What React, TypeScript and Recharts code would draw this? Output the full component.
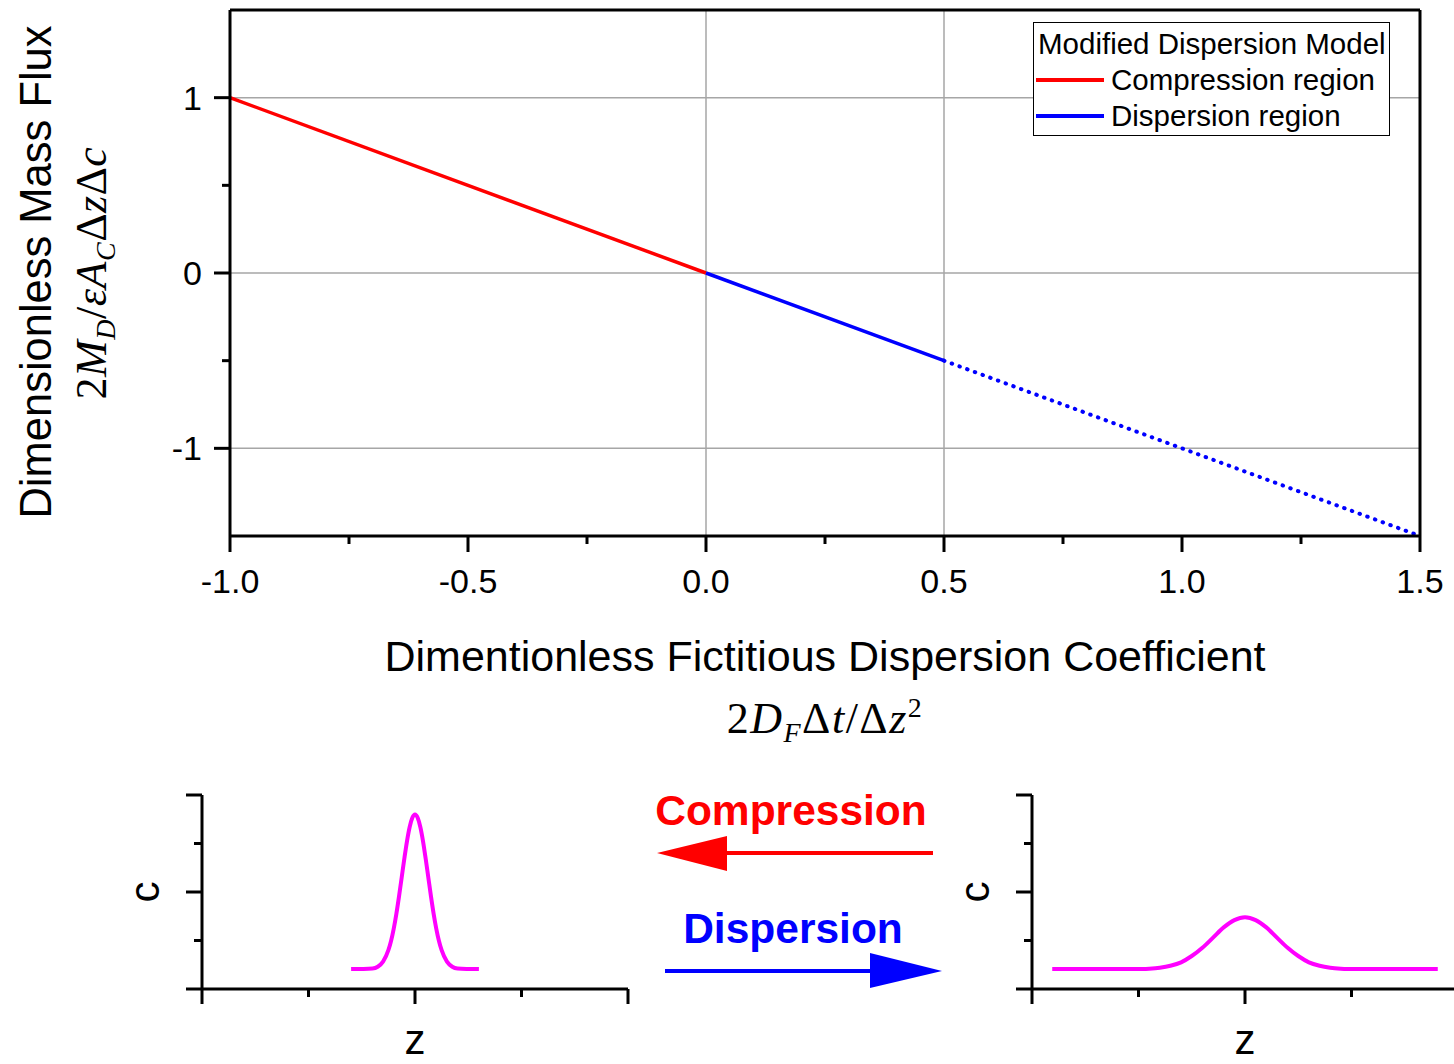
import { Legend, Line, LineChart, ReferenceLine, XAxis, YAxis } from "recharts";

// main chart: dimensionless flux vs dimensionless fictitious dispersion coefficient
const fluxTicksX = [-1, -0.75, -0.5, -0.25, 0, 0.25, 0.5, 0.75, 1, 1.25, 1.5];
const fluxTicksY = [-1, -0.5, 0, 0.5, 1];
const fluxDomainX = [-1, 1.5];
const fluxDomainY = [-1.5, 1.5];
const gridX = [0, 0.5];
const gridY = [-1, 0, 1];

const compressionX = [-1, 0];
const compressionFlux = [1, 0];
const dispersionX = [0, 0.5];
const dispersionFlux = [0, -0.5];
const extendedX = [0.5, 1.5];
const extendedFlux = [-0.5, -1.5];

// small concentration profiles
const profileTicks = [0, 1, 2, 3, 4];
const narrowZ = [
  1.4, 1.6, 1.65, 1.7, 1.75, 1.775, 1.8, 1.825, 1.85, 1.875, 1.9, 1.925, 1.95, 1.975, 2.0,
  2.025, 2.05, 2.075, 2.1, 2.125, 2.15, 2.175, 2.2, 2.225, 2.25, 2.3, 2.35, 2.4, 2.6,
];
const narrowC = [
  0.41, 0.425, 0.46, 0.565, 0.8, 0.99, 1.24, 1.55, 1.91, 2.3, 2.69, 3.05, 3.34, 3.53, 3.6,
  3.53, 3.34, 3.05, 2.69, 2.3, 1.91, 1.55, 1.24, 0.99, 0.8, 0.565, 0.46, 0.425, 0.41,
];
const wideZ = [
  0.19, 1.0, 1.1, 1.2, 1.3, 1.4, 1.5, 1.6, 1.7, 1.8, 1.9, 2.0, 2.1, 2.2, 2.3, 2.4, 2.5, 2.6,
  2.7, 2.8, 2.9, 3.0, 3.81,
];
const wideC = [
  0.41, 0.41, 0.42, 0.44, 0.48, 0.55, 0.68, 0.85, 1.06, 1.27, 1.42, 1.48, 1.42, 1.27, 1.06,
  0.85, 0.68, 0.55, 0.48, 0.44, 0.42, 0.41, 0.41,
];

const SANS = "'Liberation Sans', Arial, sans-serif";
const SERIF = "'Liberation Serif', 'Times New Roman', serif";
const RED = "#ff0000";
const BLUE = "#0000ff";

const zip = (xs: number[], ys: number[]) => xs.map((x, i) => ({ x, y: ys[i] }));

function FluxXTick({ x, y, payload }: any) {
  const major = Math.abs(payload.value * 2 - Math.round(payload.value * 2)) < 1e-6;
  return (
    <g>
      <line x1={x} x2={x} y1={y} y2={y + (major ? 16 : 8)} stroke="#000" strokeWidth={3} />
      {major && (
        <text x={x} y={y + 57} textAnchor="middle" fontFamily={SANS} fontSize={34} fill="#000">
          {payload.value.toFixed(1)}
        </text>
      )}
    </g>
  );
}

function FluxYTick({ x, y, payload }: any) {
  const major = Number.isInteger(payload.value);
  return (
    <g>
      <line x1={x - (major ? 16 : 8)} x2={x} y1={y} y2={y} stroke="#000" strokeWidth={3} />
      {major && (
        <text x={x - 28} y={y + 12} textAnchor="end" fontFamily={SANS} fontSize={34} fill="#000">
          {payload.value}
        </text>
      )}
    </g>
  );
}

function FluxLegend({ payload }: any) {
  const items = (payload || []).filter((p: any) => p.type !== "none");
  return (
    <div
      style={{
        width: 357,
        height: 114,
        boxSizing: "border-box",
        border: "1px solid #000",
        background: "#fff",
        padding: "3px 0 0 4px",
        fontFamily: SANS,
        fontSize: 29.5,
        lineHeight: "36px",
        color: "#000",
        whiteSpace: "nowrap",
      }}
    >
      <div>Modified Dispersion Model</div>
      {items.map((p: any) => (
        <div key={p.value} style={{ display: "flex", alignItems: "center" }}>
          <span style={{ width: 68, height: 4, background: p.color, marginLeft: -2, marginRight: 7 }} />
          <span>{p.value}</span>
        </div>
      ))}
    </div>
  );
}

function ProfileXTick({ x, y, payload }: any) {
  const major = payload.value % 2 === 0;
  return <line x1={x} x2={x} y1={y} y2={y + (major ? 15 : 8)} stroke="#000" strokeWidth={3} />;
}

function ProfileYTick({ x, y, payload }: any) {
  const major = payload.value % 2 === 0;
  return <line x1={x - (major ? 16 : 8)} x2={x} y1={y} y2={y} stroke="#000" strokeWidth={3} />;
}

function ProfilePanel({ z, c, left }: { z: number[]; c: number[]; left: number }) {
  const data = z.map((v, i) => ({ z: v, c: c[i] }));
  return (
    <div style={{ position: "absolute", left, top: 780 }}>
      <LineChart width={660} height={240} data={data} margin={{ top: 15, right: 32, bottom: 0, left: 0 }}>
        <XAxis
          dataKey="z"
          type="number"
          domain={[0, 4]}
          ticks={profileTicks}
          tick={<ProfileXTick />}
          tickLine={false}
          tickSize={0}
          tickMargin={0}
          height={31}
          axisLine={{ stroke: "#000", strokeWidth: 3 }}
        />
        <YAxis
          type="number"
          domain={[0, 4]}
          ticks={profileTicks}
          tick={<ProfileYTick />}
          tickLine={false}
          tickSize={0}
          tickMargin={0}
          width={202}
          axisLine={{ stroke: "#000", strokeWidth: 3 }}
        />
        <Line
          dataKey="c"
          type="monotone"
          stroke="#ff00ff"
          strokeWidth={4}
          dot={false}
          isAnimationActive={false}
        />
      </LineChart>
      <div
        style={{
          position: "absolute",
          left: 145,
          top: 112,
          transform: "translate(-50%, -50%) rotate(-90deg)",
          fontFamily: SANS,
          fontSize: 42,
          lineHeight: 1,
        }}
      >
        c
      </div>
      <div
        style={{
          position: "absolute",
          left: 415,
          top: 239,
          transform: "translateX(-50%)",
          fontFamily: SANS,
          fontSize: 42,
          lineHeight: 1,
        }}
      >
        z
      </div>
    </div>
  );
}

export default function App() {
  const axisStyle = { stroke: "#000", strokeWidth: 3 };
  return (
    <div
      style={{
        position: "absolute",
        left: 0,
        top: 0,
        width: 1454,
        height: 1064,
        overflow: "hidden",
        background: "#fff",
        color: "#000",
      }}
    >
      <div style={{ position: "absolute", left: 0, top: 0 }}>
        <LineChart width={1454} height={620} margin={{ top: 10, right: 34, bottom: 0, left: 0 }}>
          <XAxis
            dataKey="x"
            type="number"
            domain={fluxDomainX}
            ticks={fluxTicksX}
            tick={<FluxXTick />}
            tickLine={false}
            tickSize={0}
            tickMargin={0}
            height={84}
            axisLine={axisStyle}
            allowDataOverflow
          />
          <YAxis
            type="number"
            domain={fluxDomainY}
            ticks={fluxTicksY}
            tick={<FluxYTick />}
            tickLine={false}
            tickSize={0}
            tickMargin={0}
            width={230}
            axisLine={axisStyle}
            allowDataOverflow
          />
          {gridX.map((v) => (
            <ReferenceLine key={`gx${v}`} x={v} stroke="#a6a6a6" strokeWidth={1.5} />
          ))}
          {gridY.map((v) => (
            <ReferenceLine key={`gy${v}`} y={v} stroke="#a6a6a6" strokeWidth={1.5} />
          ))}
          {/* closed frame: top and right edges */}
          <ReferenceLine y={fluxDomainY[1]} stroke="#000" strokeWidth={3} />
          <ReferenceLine x={fluxDomainX[1]} stroke="#000" strokeWidth={3} />
          <Line
            data={zip(compressionX, compressionFlux)}
            dataKey="y"
            name="Compression region"
            stroke={RED}
            strokeWidth={3.5}
            dot={false}
            isAnimationActive={false}
          />
          <Line
            data={zip(dispersionX, dispersionFlux)}
            dataKey="y"
            name="Dispersion region"
            stroke={BLUE}
            strokeWidth={3.5}
            dot={false}
            isAnimationActive={false}
          />
          <Line
            data={zip(extendedX, extendedFlux)}
            dataKey="y"
            name="extended"
            legendType="none"
            stroke={BLUE}
            strokeWidth={4}
            strokeDasharray="0.5 7.7"
            strokeLinecap="round"
            dot={false}
            isAnimationActive={false}
          />
          <Legend
            layout="vertical"
            align="center"
            verticalAlign="middle"
            content={<FluxLegend />}
            wrapperStyle={{ top: 22, left: 1033, width: 357 }}
          />
        </LineChart>
      </div>

      {/* axis titles */}
      <div
        style={{
          position: "absolute",
          left: 37,
          top: 272,
          transform: "translate(-50%, -50%) rotate(-90deg)",
          fontFamily: SANS,
          fontSize: 43.5,
          lineHeight: 1,
          whiteSpace: "nowrap",
        }}
      >
        Dimensionless Mass Flux
      </div>
      <div
        style={{
          position: "absolute",
          left: 95,
          top: 273,
          transform: "translate(-50%, -50%) rotate(-90deg)",
          fontFamily: SERIF,
          fontSize: 44,
          lineHeight: 1,
          letterSpacing: 0.5,
          whiteSpace: "nowrap",
        }}
      >
        2<i>M</i>
        <sub style={{ fontSize: 28 }}>
          <i>D</i>
        </sub>
        /<i>ε</i>
        <i>A</i>
        <sub style={{ fontSize: 28 }}>
          <i>C</i>
        </sub>
        Δ<i>z</i>Δ<i>c</i>
      </div>
      <div
        style={{
          position: "absolute",
          left: 825,
          top: 635,
          transform: "translateX(-50%)",
          fontFamily: SANS,
          fontSize: 43,
          lineHeight: 1,
          whiteSpace: "nowrap",
        }}
      >
        Dimentionless Fictitious Dispersion Coefficient
      </div>
      <div
        style={{
          position: "absolute",
          left: 825,
          top: 694,
          transform: "translateX(-50%)",
          fontFamily: SERIF,
          fontSize: 44,
          lineHeight: 1,
          letterSpacing: 1.5,
          whiteSpace: "nowrap",
        }}
      >
        2<i>D</i>
        <sub style={{ fontSize: 28 }}>
          <i>F</i>
        </sub>
        Δ<i>t</i>/Δ<i>z</i>
        <sup style={{ fontSize: 28 }}>2</sup>
      </div>

      {/* profile sketches */}
      <ProfilePanel z={narrowZ} c={narrowC} left={0} />
      <ProfilePanel z={wideZ} c={wideC} left={830} />

      {/* direction arrows */}
      <div
        style={{
          position: "absolute",
          left: 791,
          top: 790,
          transform: "translateX(-50%)",
          fontFamily: SANS,
          fontWeight: "bold",
          fontSize: 42.5,
          lineHeight: 1,
          color: RED,
          whiteSpace: "nowrap",
        }}
      >
        Compression
      </div>
      <div
        style={{
          position: "absolute",
          left: 793,
          top: 908,
          transform: "translateX(-50%)",
          fontFamily: SANS,
          fontWeight: "bold",
          fontSize: 42.5,
          lineHeight: 1,
          color: BLUE,
          whiteSpace: "nowrap",
        }}
      >
        Dispersion
      </div>
      <svg style={{ position: "absolute", left: 0, top: 0 }} width={1454} height={1064}>
        <line x1={725} x2={933} y1={853} y2={853} stroke={RED} strokeWidth={4} />
        <polygon points="657,853 727,836 727,871" fill={RED} />
        <line x1={665} x2={872} y1={971} y2={971} stroke={BLUE} strokeWidth={4} />
        <polygon points="942,971 870,953 870,988" fill={BLUE} />
      </svg>
    </div>
  );
}
